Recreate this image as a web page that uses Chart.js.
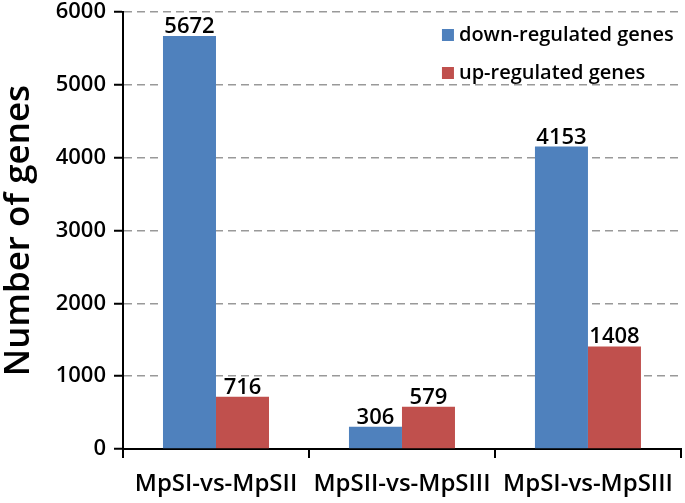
<!DOCTYPE html>
<html>
<head>
<meta charset="utf-8">
<script src="https://cdn.jsdelivr.net/npm/chart.js"></script>
<style>
  html, body { margin: 0; padding: 0; background: #fff; }
  #wrap { width: 685px; height: 503px; }
</style>
</head>
<body>
<div id="wrap"><canvas id="chart"></canvas></div>
<script>
// --- Data ---
const categories = ["MpSI-vs-MpSII", "MpSII-vs-MpSIII", "MpSI-vs-MpSIII"];
const downRegulated = [5672, 306, 4153];
const upRegulated = [716, 579, 1408];
const seriesNames = ["down-regulated genes", "up-regulated genes"];
const yTicks = [0, 1000, 2000, 3000, 4000, 5000, 6000];

const FONT = "'Open Sans', 'DejaVu Sans', sans-serif";

// value labels above each bar
const valueLabels = {
  id: "valueLabels",
  afterDatasetsDraw(chart) {
    const ctx = chart.ctx;
    ctx.save();
    ctx.font = "600 22px " + FONT;
    ctx.fillStyle = "#000";
    ctx.textAlign = "center";
    ctx.textBaseline = "alphabetic";
    chart.data.datasets.forEach((ds, i) => {
      chart.getDatasetMeta(i).data.forEach((bar, j) => {
        ctx.fillText(String(ds.data[j]), bar.x, bar.y - 3);
      });
    });
    ctx.restore();
  },
};

// legend drawn inside the plot area, top right
const insideLegend = {
  id: "insideLegend",
  afterDraw(chart) {
    const ctx = chart.ctx;
    const area = chart.chartArea;
    ctx.save();
    ctx.font = "600 20px " + FONT;
    ctx.textBaseline = "middle";
    chart.data.datasets.forEach((ds, i) => {
      const x = area.right - 239;
      const y = area.top + 23 + i * 38;
      ctx.fillStyle = ds.backgroundColor;
      ctx.fillRect(x, y - 6, 12, 12);
      ctx.fillStyle = "#000";
      ctx.fillText(ds.label, x + 17, y);
    });
    ctx.restore();
  },
};

new Chart(document.getElementById("chart"), {
  type: "bar",
  data: {
    labels: categories,
    datasets: [
      {
        label: seriesNames[0],
        data: downRegulated,
        backgroundColor: "#4f81bd",
        categoryPercentage: 0.57,
        barPercentage: 1.0,
      },
      {
        label: seriesNames[1],
        data: upRegulated,
        backgroundColor: "#c0504d",
        categoryPercentage: 0.57,
        barPercentage: 1.0,
      },
    ],
  },
  options: {
    responsive: true,
    maintainAspectRatio: false,
    animation: false,
    layout: { padding: { top: 0, right: 1, left: 0, bottom: 0 } },
    plugins: {
      legend: { display: false },
      tooltip: { enabled: false },
    },
    scales: {
      x: {
        grid: {
          offset: true,
          drawOnChartArea: false,
          color: "#000",
          lineWidth: 2,
          tickLength: 9,
        },
        border: { color: "#000", width: 2 },
        ticks: {
          color: "#000",
          font: { family: FONT, size: 24, weight: "600" },
          padding: 12,
          maxRotation: 0,
        },
        afterFit: (scale) => { scale.height = 54; },
      },
      y: {
        min: 0,
        max: 6000,
        afterBuildTicks: (scale) => {
          scale.ticks = yTicks.map((v) => ({ value: v }));
        },
        grid: {
          color: "#999",
          lineWidth: 1.5,
          tickColor: "#000",
          tickWidth: 2,
          tickLength: 9,
          tickBorderDash: [1, 0],
        },
        border: { color: "#000", width: 2, dash: [8, 5] },
        ticks: {
          color: "#000",
          font: { family: FONT, size: 22, weight: "600" },
          padding: 8,
          callback: (v) => String(v),
        },
        title: {
          display: true,
          text: "Number of genes",
          color: "#000",
          font: { family: FONT, size: 35, weight: "600", lineHeight: 1.1 },
          padding: { top: 0, bottom: 4 },
        },
        afterFit: (scale) => {
          scale.width = 123;
          scale.paddingTop = 12;
        },
      },
    },
  },
  plugins: [valueLabels, insideLegend],
});
</script>
</body>
</html>
